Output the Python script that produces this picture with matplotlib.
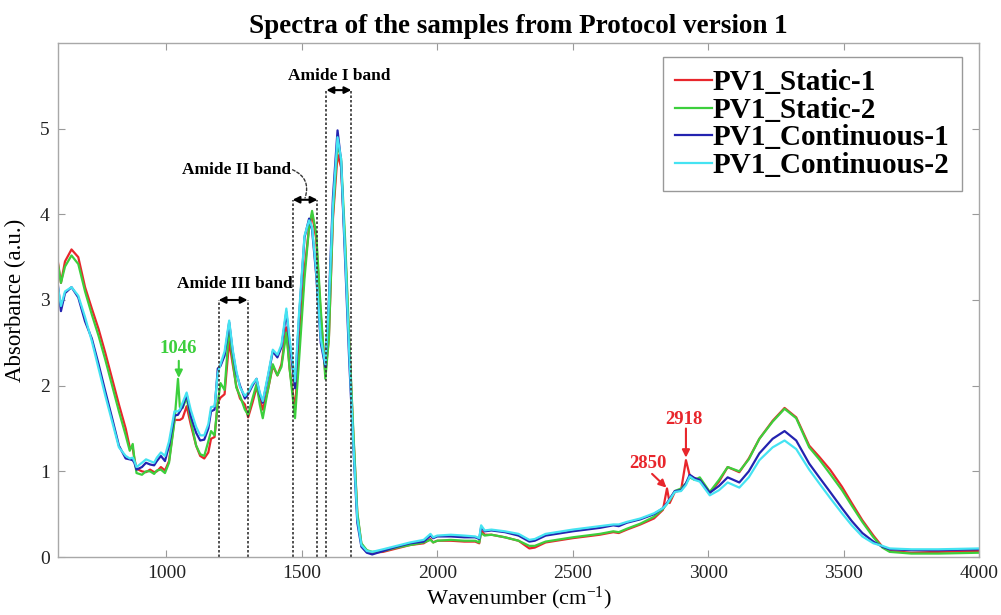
import matplotlib
matplotlib.use("Agg")
import matplotlib.pyplot as plt

plt.rcParams['font.family'] = ['Liberation Serif', 'DejaVu Serif']
plt.rcParams['mathtext.fontset'] = 'custom'
plt.rcParams['mathtext.rm'] = 'Liberation Serif'
plt.rcParams['mathtext.it'] = 'Liberation Serif:italic'
plt.rcParams['mathtext.bf'] = 'Liberation Serif:bold'

wavenumber = [600, 611, 626, 650, 675, 700, 725, 750, 775, 800, 825, 850, 865, 876, 882, 890,
              910, 925, 940, 955, 965, 980, 995, 1010, 1030, 1043, 1050, 1060, 1075, 1090, 1110,
              1125, 1140, 1155, 1165, 1178, 1190, 1200, 1215, 1232, 1245, 1258, 1272, 1290, 1302,
              1318, 1333, 1345, 1356, 1375, 1393, 1410, 1425, 1443, 1455, 1475, 1490, 1510, 1527,
              1538, 1553, 1570, 1587, 1600, 1615, 1632, 1645, 1660, 1675, 1690, 1705, 1720, 1740,
              1760, 1800, 1850, 1900, 1950, 1975, 1985, 2000, 2050, 2100, 2140, 2155, 2162, 2175,
              2200, 2250, 2300, 2340, 2360, 2400, 2500, 2600, 2650, 2670, 2700, 2750, 2800, 2833,
              2848, 2858, 2877, 2900, 2918, 2932, 2950, 2969, 3006, 3040, 3072, 3115, 3150, 3189,
              3238, 3282, 3325, 3373, 3410, 3450, 3494, 3530, 3569, 3610, 3643, 3670, 3750, 3850,
              4000]

static_1 = [3.44, 3.20, 3.45, 3.59, 3.50, 3.15, 2.90, 2.66, 2.38, 2.08, 1.78, 1.50, 1.28, 1.27, 1.15, 1.03,
            1.00, 0.99, 1.02, 0.99, 1.00, 1.05, 1.01, 1.12, 1.60, 1.60, 1.60, 1.62, 1.76, 1.55, 1.30,
            1.18, 1.15, 1.22, 1.38, 1.40, 1.80, 1.86, 1.90, 2.52, 2.25, 2.00, 1.85, 1.78, 1.63,
            1.80, 1.98, 1.85, 1.72, 1.95, 2.23, 2.12, 2.25, 2.68, 2.20, 1.72, 2.45, 3.35, 3.85,
            4.00, 3.72, 2.82, 2.14, 2.55, 3.95, 4.70, 4.55, 3.60, 2.50, 1.45, 0.50, 0.15, 0.07,
            0.05, 0.06, 0.10, 0.14, 0.16, 0.21, 0.17, 0.19, 0.19, 0.18, 0.18, 0.16, 0.31, 0.26,
            0.26, 0.23, 0.19, 0.10, 0.11, 0.17, 0.22, 0.26, 0.29, 0.28, 0.32, 0.38, 0.45, 0.55,
            0.80, 0.63, 0.76, 0.78, 1.13, 0.95, 0.92, 0.90, 0.75, 0.88, 1.05, 0.99, 1.15, 1.38,
            1.59, 1.74, 1.63, 1.30, 1.17, 1.02, 0.82, 0.63, 0.43, 0.25, 0.12, 0.07, 0.05, 0.06,
            0.07]

static_2 = [3.42, 3.20, 3.39, 3.52, 3.42, 3.10, 2.83, 2.58, 2.30, 2.00, 1.70, 1.42, 1.24, 1.32, 1.15, 0.98,
            0.96, 1.00, 1.00, 0.97, 1.01, 1.02, 0.98, 1.10, 1.58, 2.08, 1.75, 1.74, 1.86, 1.60, 1.30,
            1.20, 1.18, 1.35, 1.47, 1.42, 1.80, 2.03, 1.95, 2.68, 2.30, 1.98, 1.88, 1.72, 1.66,
            1.85, 2.02, 1.78, 1.62, 1.95, 2.25, 2.12, 2.22, 2.62, 2.20, 1.62, 2.30, 3.25, 3.85,
            4.04, 3.78, 2.90, 2.08, 2.55, 4.00, 4.82, 4.65, 3.70, 2.55, 1.48, 0.52, 0.16, 0.08,
            0.06, 0.07, 0.11, 0.14, 0.17, 0.20, 0.17, 0.19, 0.20, 0.19, 0.19, 0.17, 0.28, 0.25,
            0.26, 0.23, 0.19, 0.13, 0.13, 0.18, 0.23, 0.27, 0.30, 0.29, 0.33, 0.39, 0.47, 0.56,
            0.62, 0.66, 0.77, 0.80, 0.86, 0.93, 0.90, 0.93, 0.76, 0.90, 1.05, 1.00, 1.14, 1.38,
            1.58, 1.73, 1.62, 1.28, 1.14, 0.97, 0.78, 0.60, 0.41, 0.23, 0.11, 0.06, 0.04, 0.04,
            0.05]

continuous_1 = [3.17, 2.87, 3.08, 3.15, 3.03, 2.75, 2.55, 2.25, 1.93, 1.62, 1.30, 1.15, 1.14, 1.13, 1.10, 1.02,
                1.05, 1.10, 1.08, 1.07, 1.12, 1.18, 1.12, 1.30, 1.65, 1.66, 1.70, 1.75, 1.90, 1.65, 1.45,
                1.36, 1.37, 1.50, 1.70, 1.72, 2.20, 2.23, 2.35, 2.74, 2.40, 2.15, 2.00, 1.85, 1.90,
                2.00, 2.08, 1.90, 1.80, 2.10, 2.40, 2.33, 2.45, 2.86, 2.50, 1.97, 2.80, 3.73, 3.95,
                3.82, 3.30, 2.50, 2.22, 3.00, 4.20, 4.98, 4.62, 3.45, 2.30, 1.30, 0.40, 0.12, 0.05,
                0.03, 0.07, 0.12, 0.16, 0.18, 0.25, 0.22, 0.24, 0.24, 0.23, 0.23, 0.21, 0.35, 0.30,
                0.31, 0.29, 0.25, 0.18, 0.19, 0.25, 0.30, 0.34, 0.37, 0.36, 0.40, 0.44, 0.50, 0.57,
                0.63, 0.68, 0.77, 0.78, 0.86, 0.96, 0.92, 0.90, 0.75, 0.83, 0.93, 0.87, 1.00, 1.21,
                1.38, 1.47, 1.36, 1.09, 0.93, 0.76, 0.57, 0.42, 0.28, 0.18, 0.12, 0.09, 0.08, 0.08,
                0.09]

continuous_2 = [3.15, 2.93, 3.10, 3.15, 3.05, 2.80, 2.52, 2.20, 1.88, 1.58, 1.28, 1.18, 1.15, 1.16, 1.12, 1.05,
                1.10, 1.14, 1.12, 1.10, 1.16, 1.22, 1.18, 1.35, 1.70, 1.70, 1.72, 1.80, 1.92, 1.72, 1.52,
                1.42, 1.42, 1.55, 1.75, 1.76, 2.15, 2.25, 2.40, 2.76, 2.42, 2.18, 1.98, 1.88, 1.92,
                2.02, 2.08, 1.92, 1.82, 2.12, 2.42, 2.36, 2.48, 2.90, 2.55, 2.05, 2.85, 3.75, 3.93,
                3.85, 3.35, 2.55, 2.25, 2.95, 4.10, 4.90, 4.65, 3.55, 2.40, 1.35, 0.45, 0.14, 0.07,
                0.06, 0.09, 0.13, 0.17, 0.20, 0.27, 0.23, 0.25, 0.26, 0.25, 0.24, 0.22, 0.37, 0.31,
                0.32, 0.30, 0.27, 0.20, 0.21, 0.27, 0.32, 0.36, 0.38, 0.38, 0.41, 0.45, 0.51, 0.57,
                0.62, 0.67, 0.76, 0.77, 0.84, 0.94, 0.90, 0.88, 0.72, 0.78, 0.87, 0.81, 0.93, 1.13,
                1.28, 1.36, 1.26, 1.02, 0.86, 0.69, 0.51, 0.37, 0.24, 0.16, 0.13, 0.10, 0.09, 0.09,
                0.10]

series_labels = ['PV1_Static-1', 'PV1_Static-2', 'PV1_Continuous-1', 'PV1_Continuous-2']
series_colors = ['#e8262c', '#3ccf3c', '#2323b0', '#45e3f2']

x_ticks = [1000, 1500, 2000, 2500, 3000, 3500, 4000]
y_ticks = [0, 1, 2, 3, 4, 5]

# band boxes: (left, right, top, label, label_x, label_y)
bands = [(1193, 1300, 3.0, 'Amide III band', 1252, 3.19),
         (1466, 1558, 4.17, 'Amide II band', 1258, 4.52),
         (1591, 1683, 5.45, 'Amide I band', 1639, 5.62)]

# peak labels: (text, colour, text_x, text_y, arrow_start, arrow_end)
peaks = [('1046', '#3ccf3c', 1044, 2.43, (1046, 2.29), (1046, 2.09)),
         ('2850', '#e8262c', 2778, 1.09, (2793, 0.97), (2846, 0.81)),
         ('2918', '#e8262c', 2912, 1.60, (2918, 1.50), (2918, 1.16))]

fig = plt.figure(figsize=(10.01, 6.15), dpi=100)
ax = fig.add_axes([0.0579, 0.0943, 0.9202, 0.8358])

for ys, lab, col in zip([static_1, static_2, continuous_1, continuous_2], series_labels, series_colors):
    ax.plot(wavenumber, ys, color=col, lw=1.6, label=lab)

ax.set_xlim(600, 4000)
ax.set_ylim(0, 6)
ax.set_xticks(x_ticks)
ax.set_yticks(y_ticks)
ax.tick_params(direction='in', top=True, right=True, length=5, color='#9a9a9a',
               labelsize=14, labelcolor='#222222', pad=6)
for s in ax.spines.values():
    s.set_color('#a8a8a8')
    s.set_linewidth(1.0)

ax.set_title('Spectra of the samples from Protocol version 1', fontsize=19.5, fontweight='bold', pad=7)
ax.set_xlabel('Wavenumber (cm$^{-1}$)', fontsize=16, labelpad=2)
ax.set_ylabel('Absorbance (a.u.)', fontsize=16.5, labelpad=10)

# band boxes
for left, right, top, lab, lx, ly in bands:
    ax.plot([left, left], [0, top], ls=(0, (1.5, 1.2)), color='#333333', lw=1.2)
    ax.plot([right, right], [0, top], ls=(0, (1.5, 1.2)), color='#333333', lw=1.2)
    ax.annotate('', xy=(left, top), xytext=(right, top),
                arrowprops=dict(arrowstyle='<|-|>', color='black', lw=1.5,
                                mutation_scale=10, shrinkA=0, shrinkB=0))
    ax.text(lx, ly, lab, fontsize=12.5, fontweight='bold', ha='center', va='center')

# leader for Amide II label
ax.annotate('', xy=(1512, 4.19), xytext=(1466, 4.52),
            arrowprops=dict(arrowstyle='-', ls=(0, (2, 1.5)), color='#333333', lw=1.0,
                            connectionstyle='arc3,rad=-0.45', shrinkA=0, shrinkB=0))

# peak annotations
for txt, col, tx, ty, a0, a1 in peaks:
    ax.text(tx, ty, txt, color=col, fontsize=13.5, fontweight='bold', ha='center', va='center')
    ax.annotate('', xy=a1, xytext=a0,
                arrowprops=dict(arrowstyle='-|>', color=col, lw=1.5, mutation_scale=11,
                                shrinkA=0, shrinkB=0))

leg = ax.legend(loc='upper right', bbox_to_anchor=(0.9815, 0.9728), prop={'weight': 'bold', 'size': 21},
                frameon=True, fancybox=False, edgecolor='#808080', labelspacing=0.02,
                handlelength=1.25, handletextpad=0.05, borderpad=0.42, borderaxespad=0.0)
leg.get_frame().set_linewidth(1.0)

fig.savefig('out.png', dpi=100)
